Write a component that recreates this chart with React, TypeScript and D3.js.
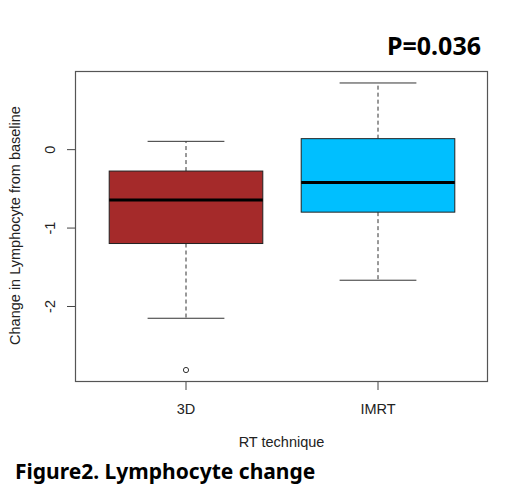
import { useEffect, useRef } from "react";
import * as d3 from "d3";

// five-number summaries
const groups = ["3D", "IMRT"];
const whiskerLow = [-2.15, -1.665];
const q1 = [-1.197, -0.797];
const median = [-0.643, -0.42];
const q3 = [-0.273, 0.14];
const whiskerHigh = [0.106, 0.85];
const outliers = [[-2.81], []];
const fills = ["#A52A2A", "#00BFFF"];
const yTicks = [-2, -1, 0];

export default function App() {
  const svgRef = useRef<SVGSVGElement>(null);

  useEffect(() => {
    if (!svgRef.current) return;
    const width = 526;
    const height = 497;
    const frame = { left: 75.5, right: 487.5, top: 71.5, bottom: 381.5 };

    const svg = d3.select(svgRef.current);
    svg.selectAll("*").remove();
    svg.attr("width", width).attr("height", height);

    // R style: data range padded by 4%
    const lo = d3.min([...whiskerLow, ...outliers.flat()]) as number;
    const hi = d3.max(whiskerHigh) as number;
    const pad = (hi - lo) * 0.04;

    const y = d3
      .scaleLinear()
      .domain([lo - pad, hi + pad])
      .range([frame.bottom, frame.top]);

    const x = d3.scaleLinear().domain([1, 2]).range([186, 378]);
    const boxW = (x(2) - x(1)) * 0.8;
    const capW = boxW / 2;

    const g = svg.append("g");
    const font = "'Liberation Sans', Arial, sans-serif";
    const axisSize = 14.5;

    groups.forEach((name, i) => {
      const cx = x(i + 1);

      // whiskers
      g.append("line")
        .attr("x1", cx).attr("x2", cx)
        .attr("y1", y(q3[i])).attr("y2", y(whiskerHigh[i]))
        .attr("stroke", "#333").attr("stroke-width", 1)
        .attr("stroke-dasharray", "4,3");
      g.append("line")
        .attr("x1", cx).attr("x2", cx)
        .attr("y1", y(q1[i])).attr("y2", y(whiskerLow[i]))
        .attr("stroke", "#333").attr("stroke-width", 1)
        .attr("stroke-dasharray", "4,3");

      [whiskerHigh[i], whiskerLow[i]].forEach((v) => {
        g.append("line")
          .attr("x1", cx - capW / 2).attr("x2", cx + capW / 2)
          .attr("y1", y(v)).attr("y2", y(v))
          .attr("stroke", "#333").attr("stroke-width", 1);
      });

      g.append("rect")
        .attr("x", cx - boxW / 2)
        .attr("y", y(q3[i]))
        .attr("width", boxW)
        .attr("height", y(q1[i]) - y(q3[i]))
        .attr("fill", fills[i])
        .attr("stroke", "#222")
        .attr("stroke-width", 1);

      g.append("line")
        .attr("x1", cx - boxW / 2).attr("x2", cx + boxW / 2)
        .attr("y1", y(median[i])).attr("y2", y(median[i]))
        .attr("stroke", "#000").attr("stroke-width", 3);

      outliers[i].forEach((v) => {
        g.append("circle")
          .attr("cx", cx).attr("cy", y(v)).attr("r", 2.6)
          .attr("fill", "none").attr("stroke", "#333").attr("stroke-width", 1);
      });

      // x ticks
      g.append("line")
        .attr("x1", cx).attr("x2", cx)
        .attr("y1", frame.bottom).attr("y2", frame.bottom + 8.5)
        .attr("stroke", "#444");
      g.append("text")
        .attr("x", cx).attr("y", 414)
        .attr("text-anchor", "middle")
        .attr("font-family", font).attr("font-size", axisSize)
        .attr("fill", "#222")
        .text(name);
    });

    // y ticks
    yTicks.forEach((t) => {
      g.append("line")
        .attr("x1", frame.left - 8.5).attr("x2", frame.left)
        .attr("y1", y(t)).attr("y2", y(t))
        .attr("stroke", "#444");
      g.append("text")
        .attr("transform", `translate(54.5,${y(t)}) rotate(-90)`)
        .attr("text-anchor", "middle")
        .attr("font-family", font).attr("font-size", axisSize)
        .attr("fill", "#222")
        .text(String(t));
    });

    // plot frame
    g.append("rect")
      .attr("x", frame.left).attr("y", frame.top)
      .attr("width", frame.right - frame.left)
      .attr("height", frame.bottom - frame.top)
      .attr("fill", "none").attr("stroke", "#555").attr("stroke-width", 1.2);

    g.append("text")
      .attr("x", (frame.left + frame.right) / 2).attr("y", 447)
      .attr("text-anchor", "middle")
      .attr("font-family", font).attr("font-size", axisSize)
      .attr("fill", "#222")
      .text("RT technique");

    g.append("text")
      .attr("transform", `translate(20,${(frame.top + frame.bottom) / 2 - 1}) rotate(-90)`)
      .attr("text-anchor", "middle")
      .attr("font-family", font).attr("font-size", axisSize)
      .attr("fill", "#222")
      .text("Change in Lymphocyte from baseline");

    g.append("text")
      .attr("x", 481).attr("y", 55)
      .attr("text-anchor", "end")
      .attr("font-family", "'Noto Sans', 'Open Sans', sans-serif")
      .attr("font-weight", "bold").attr("font-size", 25)
      .attr("fill", "#000")
      .text("P=0.036");

    g.append("text")
      .attr("x", 15).attr("y", 479)
      .attr("font-family", "'Noto Sans', 'Open Sans', sans-serif")
      .attr("font-weight", "bold").attr("font-size", 21)
      .attr("fill", "#000")
      .text("Figure2. Lymphocyte change");
  }, []);

  return (
    <div style={{ position: "absolute", left: 0, top: 0, background: "#fff" }}>
      <svg ref={svgRef} style={{ display: "block" }} />
    </div>
  );
}
